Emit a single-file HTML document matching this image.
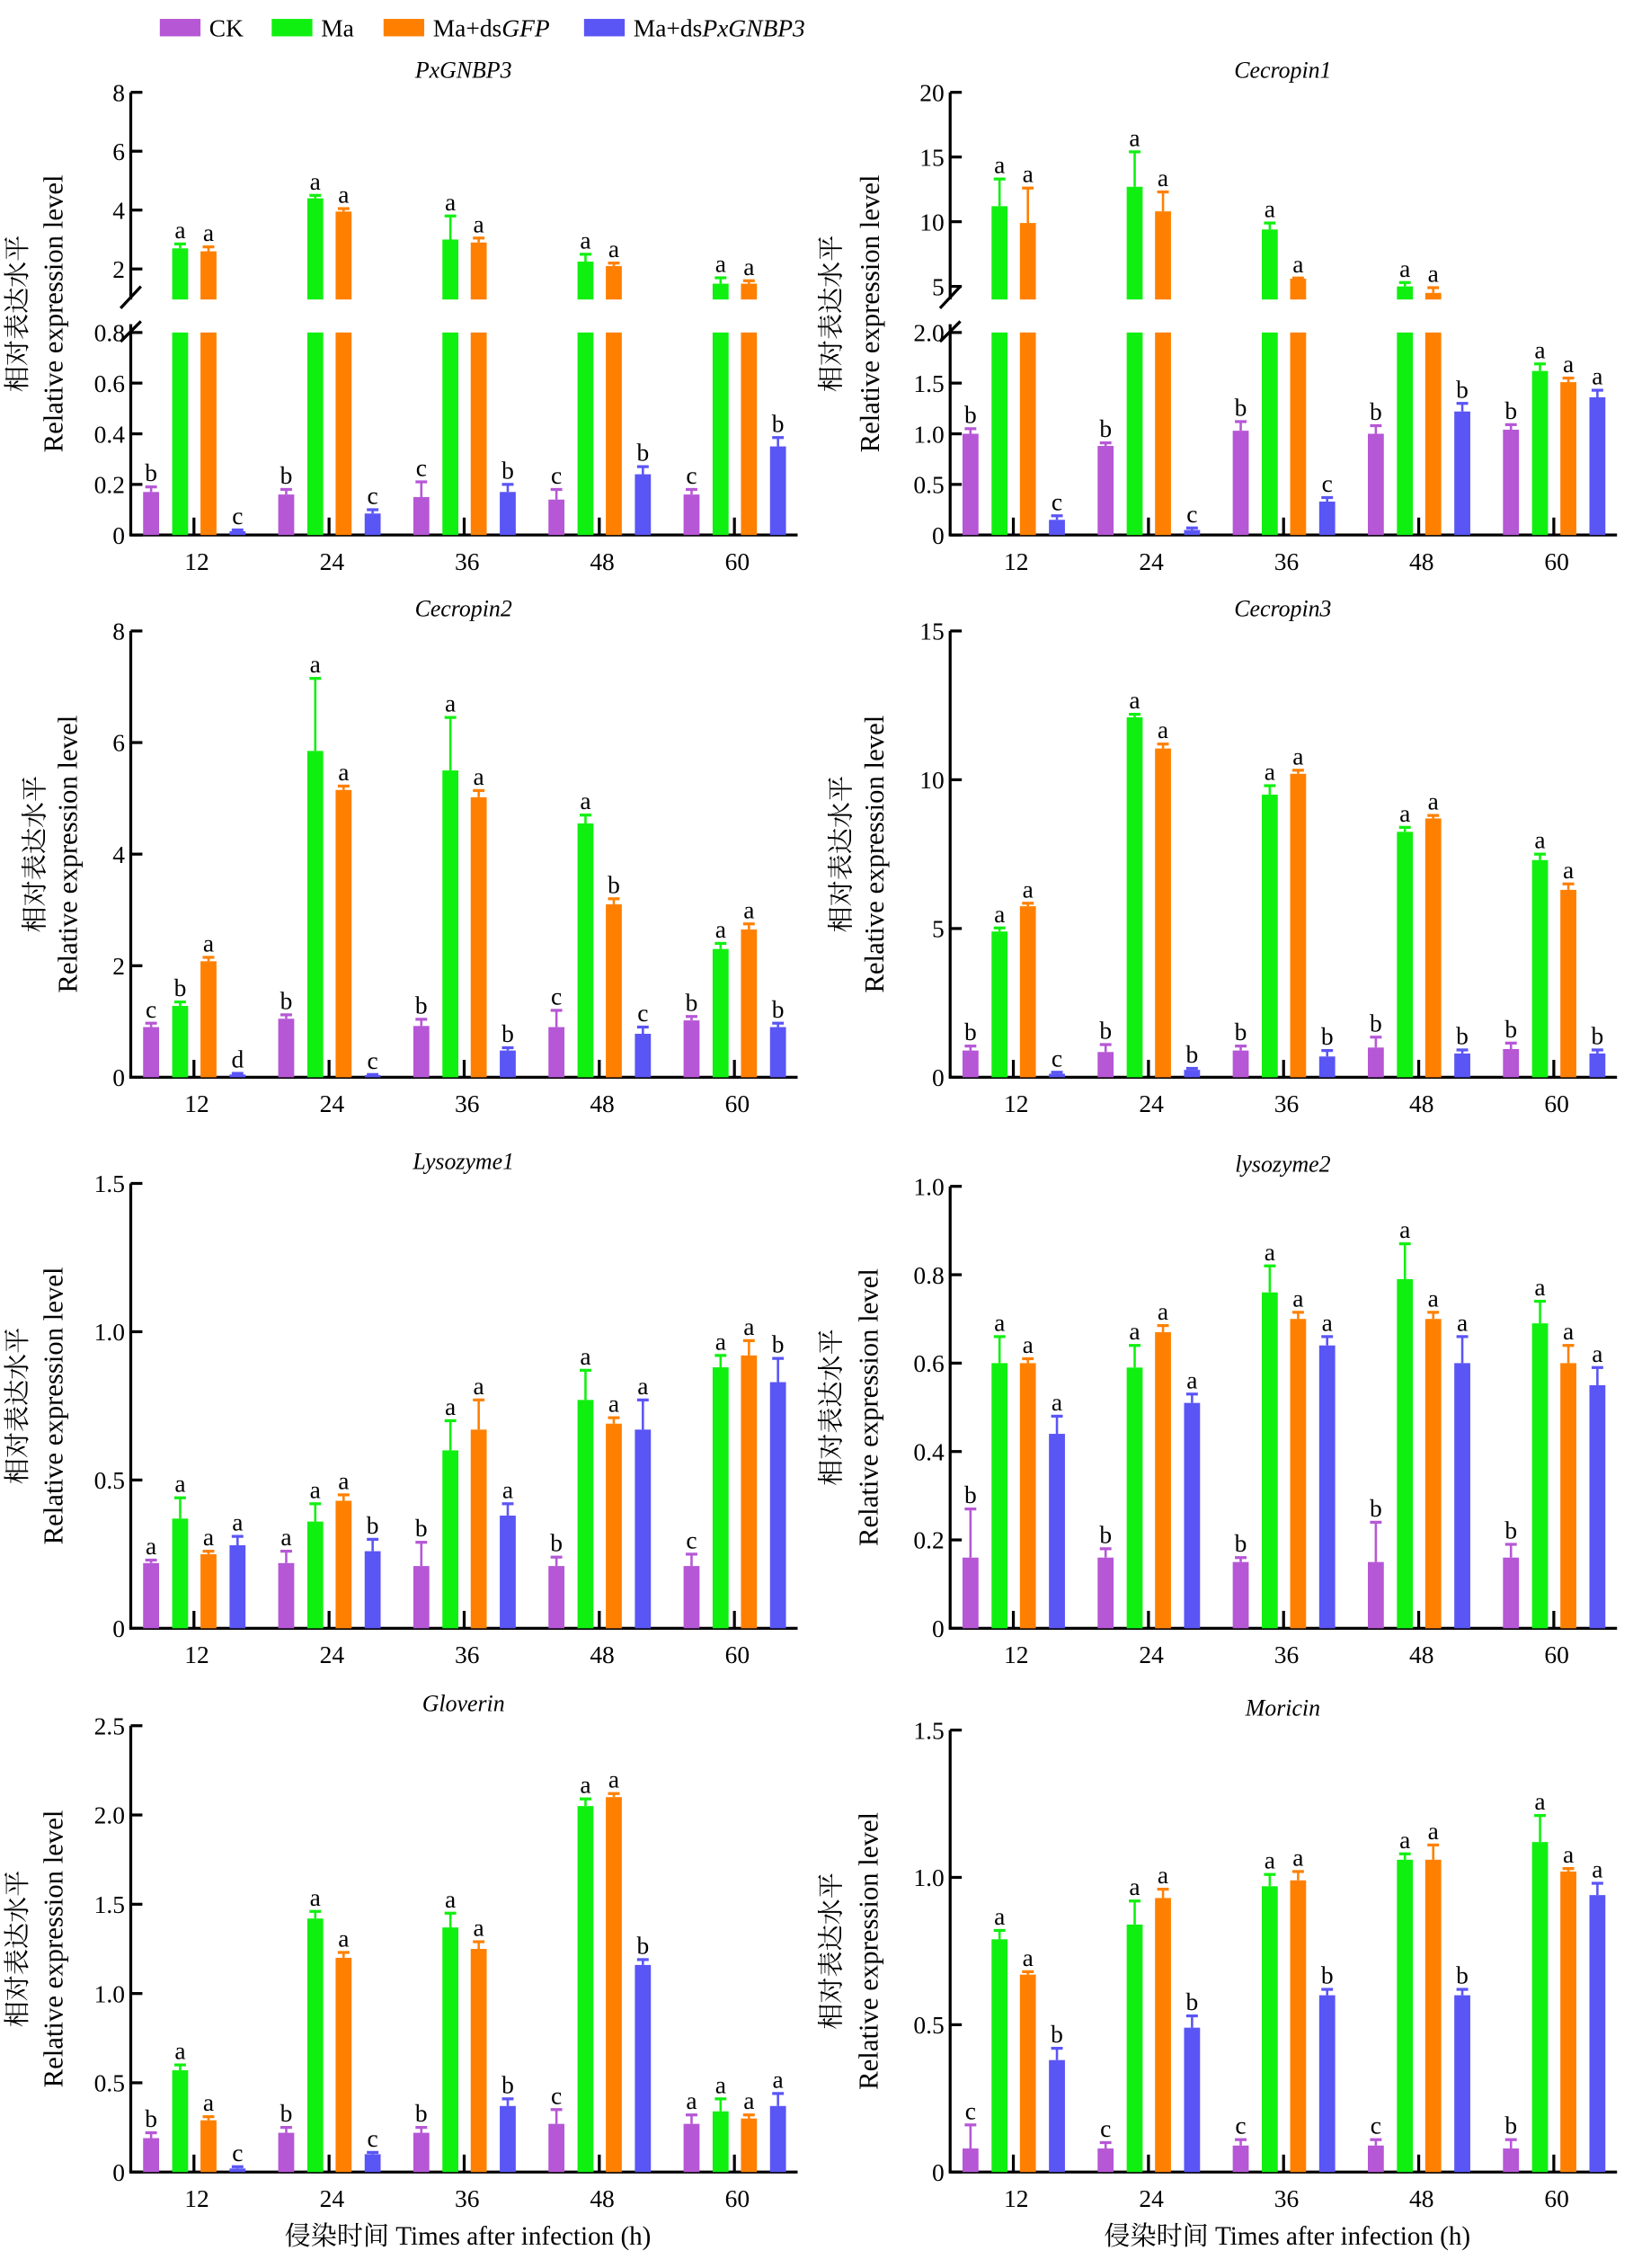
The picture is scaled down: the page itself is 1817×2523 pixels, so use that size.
<!DOCTYPE html>
<html><head><meta charset="utf-8">
<style>html,body{margin:0;padding:0;background:#fff}svg{display:block}</style>
</head><body>
<svg id="s" xmlns="http://www.w3.org/2000/svg" width="1817" height="2523" viewBox="0 0 1124 1560" preserveAspectRatio="none" font-family="'Liberation Serif','Noto Serif CJK SC',serif"></svg>
<script>
const C=['#b657d6','#10f010','#ff8000','#5a55f5'];
const s=document.getElementById('s');let h='';
const lg=[[110,'CK'],[187,'Ma'],[264,'Ma+ds<tspan font-style="italic">GFP</tspan>'],[402,'Ma+ds<tspan font-style="italic">PxGNBP3</tspan>']];
lg.forEach((l,i)=>{h+=`<rect x="${l[0]}" y="13" width="28" height="12" fill="${C[i]}"/><text x="${l[0]+34}" y="25" font-size="17">${l[1]}</text>`;});
function panel(p){
  const x0=p.x0,bot=p.bot,top=p.top;
  const Y=p.Y;
  h+=`<text x="${x0+229}" y="${top-10}" font-size="16" font-style="italic" text-anchor="middle">${p.title}</text>`;
  if(p.brk){
    h+=`<line x1="${x0}" y1="${top}" x2="${x0}" y2="206" stroke="#000" stroke-width="2"/>`;
    h+=`<line x1="${x0}" y1="223" x2="${x0}" y2="${bot}" stroke="#000" stroke-width="2"/>`;
    h+=`<line x1="${x0-7}" y1="212" x2="${x0+7}" y2="197" stroke="#000" stroke-width="2"/>`;
    h+=`<line x1="${x0-7}" y1="235" x2="${x0+7}" y2="221" stroke="#000" stroke-width="2"/>`;
  } else h+=`<line x1="${x0}" y1="${top}" x2="${x0}" y2="${bot}" stroke="#000" stroke-width="2"/>`;
  h+=`<line x1="${x0-1}" y1="${bot}" x2="${x0+459}" y2="${bot}" stroke="#000" stroke-width="2"/>`;
  p.ticks.forEach(t=>{const y=t[2];h+=`<line x1="${x0}" y1="${y}" x2="${x0+8}" y2="${y}" stroke="#000" stroke-width="2"/><text x="${x0-4}" y="${y+6}" font-size="17" text-anchor="end">${t[1]}</text>`;});
  const cy=(top+bot)/2+p.ly;
  h+=`<text transform="translate(${x0-p.cx},${cy}) rotate(-90)" font-size="18" text-anchor="middle" font-family="'Noto Serif CJK SC','Noto Sans CJK SC',serif">相对表达水平</text>`;
  h+=`<text transform="translate(${x0-p.ex},${cy}) rotate(-90)" font-size="19" text-anchor="middle">Relative expression level</text>`;
  const off=[-29.5,-9.5,10,30];
  p.d.forEach((g,i)=>{
    const t=x0+43.5+i*93;
    h+=`<line x1="${t}" y1="${bot-12}" x2="${t}" y2="${bot}" stroke="#000" stroke-width="2"/>`;
    h+=`<text x="${t+2}" y="${bot+24}" font-size="17" text-anchor="middle">${[12,24,36,48,60][i]}</text>`;
    g.forEach((b,j)=>{
      const cx=t+off[j],v=b[0],e=b[1];
      const yv=Y(v),ye=Y(v+e);
      if(p.brk&&v>p.lmax){
        h+=`<rect x="${cx-5.5}" y="228.7" width="11" height="${bot-228.7}" fill="${C[j]}"/>`;
        h+=`<rect x="${cx-5.5}" y="${yv}" width="11" height="${206-yv}" fill="${C[j]}"/>`;
      } else h+=`<rect x="${cx-5.5}" y="${yv}" width="11" height="${bot-yv}" fill="${C[j]}"/>`;
      h+=`<line x1="${cx}" y1="${yv}" x2="${cx}" y2="${ye}" stroke="${C[j]}" stroke-width="1.6"/><line x1="${cx-4}" y1="${ye}" x2="${cx+4}" y2="${ye}" stroke="${C[j]}" stroke-width="2"/>`;
      h+=`<text x="${cx}" y="${ye-4}" font-size="17" text-anchor="middle">${b[2]}</text>`;
    });
  });
}
function lin(bot,top,max){return v=>bot-v/max*(bot-top);}
function ticks(bot,top,max,step,dec){const a=[];for(let v=0;v<=max+1e-9;v+=step){a.push([v,v===0?'0':v.toFixed(dec),bot-v/max*(bot-top)]);}return a;}
function brkY(lmax,uA,uAy,uB,uBy){return v=>v<=lmax?368-v/lmax*(368-228.7):uAy+(v-uA)*(uBy-uAy)/(uB-uA);}
panel({title:'PxGNBP3',x0:90,top:63.5,bot:368,brk:1,lmax:0.8,Y:brkY(0.8,2,185,8,63.5),cx:72,ex:47,ly:0,
 ticks:[[0,'0',368],[.2,'0.2',333.2],[.4,'0.4',298.4],[.6,'0.6',263.5],[.8,'0.8',228.7],[2,'2',185],[4,'4',144.5],[6,'6',104],[8,'8',63.5]],
 d:[[[.17,.02,'b'],[2.7,.15,'a'],[2.6,.15,'a'],[.015,.005,'c']],
    [[.16,.02,'b'],[4.4,.1,'a'],[3.95,.1,'a'],[.085,.015,'c']],
    [[.15,.06,'c'],[3.0,.8,'a'],[2.9,.15,'a'],[.17,.03,'b']],
    [[.14,.04,'c'],[2.25,.25,'a'],[2.1,.1,'a'],[.24,.03,'b']],
    [[.16,.02,'c'],[1.5,.2,'a'],[1.5,.1,'a'],[.35,.035,'b']]]});
panel({title:'Cecropin1',x0:654,top:63.5,bot:368,brk:1,lmax:2,Y:brkY(2,5,197,20,63.5),cx:76,ex:49,ly:0,
 ticks:[[0,'0',368],[.5,'0.5',333.2],[1,'1.0',298.4],[1.5,'1.5',263.5],[2,'2.0',228.7],[5,'5',197],[10,'10',152.5],[15,'15',108],[20,'20',63.5]],
 d:[[[1.0,.05,'b'],[11.2,2.1,'a'],[9.9,2.7,'a'],[.15,.04,'c']],
    [[.88,.03,'b'],[12.7,2.7,'a'],[10.8,1.5,'a'],[.05,.02,'c']],
    [[1.03,.09,'b'],[9.4,.5,'a'],[5.6,.05,'a'],[.33,.04,'c']],
    [[1.0,.08,'b'],[5.0,.3,'a'],[4.5,.4,'a'],[1.22,.08,'b']],
    [[1.04,.05,'b'],[1.62,.07,'a'],[1.51,.04,'a'],[1.36,.07,'a']]]});
panel({title:'Cecropin2',x0:90,top:434,bot:741,Y:lin(741,434,8),cx:60,ex:37,ly:0,ticks:ticks(741,434,8,2,0),
 d:[[[.9,.07,'c'],[1.28,.07,'b'],[2.08,.07,'a'],[.05,.02,'d']],
    [[1.05,.07,'b'],[5.85,1.3,'a'],[5.15,.07,'a'],[.04,.01,'c']],
    [[.92,.12,'b'],[5.5,.95,'a'],[5.02,.12,'a'],[.48,.05,'b']],
    [[.9,.3,'c'],[4.55,.15,'a'],[3.1,.1,'b'],[.78,.12,'c']],
    [[1.02,.07,'b'],[2.3,.1,'a'],[2.65,.1,'a'],[.9,.07,'b']]]});
panel({title:'Cecropin3',x0:654,top:434,bot:741,Y:lin(741,434,15),cx:69,ex:46,ly:0,ticks:ticks(741,434,15,5,0),
 d:[[[.9,.15,'b'],[4.9,.12,'a'],[5.75,.1,'a'],[.12,.05,'c']],
    [[.85,.25,'b'],[12.1,.1,'a'],[11.05,.15,'a'],[.25,.05,'b']],
    [[.9,.15,'b'],[9.5,.3,'a'],[10.2,.12,'a'],[.7,.2,'b']],
    [[1.0,.35,'b'],[8.25,.15,'a'],[8.7,.1,'a'],[.8,.12,'b']],
    [[.95,.2,'b'],[7.3,.2,'a'],[6.3,.2,'a'],[.8,.12,'b']]]});
panel({title:'Lysozyme1',x0:90,top:814,bot:1120,Y:lin(1120,814,1.5),cx:72,ex:47,ly:0,ticks:ticks(1120,814,1.5,.5,1),
 d:[[[.22,.01,'a'],[.37,.07,'a'],[.25,.01,'a'],[.28,.03,'a']],
    [[.22,.04,'a'],[.36,.06,'a'],[.43,.02,'a'],[.26,.04,'b']],
    [[.21,.08,'b'],[.6,.1,'a'],[.67,.1,'a'],[.38,.04,'a']],
    [[.21,.03,'b'],[.77,.1,'a'],[.69,.02,'a'],[.67,.1,'a']],
    [[.21,.04,'c'],[.88,.04,'a'],[.92,.05,'a'],[.83,.08,'b']]]});
panel({title:'lysozyme2',x0:654,top:816,bot:1120,Y:lin(1120,816,1),cx:76,ex:50,ly:0,ticks:ticks(1120,816,1,.2,1),
 d:[[[.16,.11,'b'],[.6,.06,'a'],[.6,.01,'a'],[.44,.04,'a']],
    [[.16,.02,'b'],[.59,.05,'a'],[.67,.015,'a'],[.51,.02,'a']],
    [[.15,.01,'b'],[.76,.06,'a'],[.70,.015,'a'],[.64,.02,'a']],
    [[.15,.09,'b'],[.79,.08,'a'],[.70,.015,'a'],[.6,.06,'a']],
    [[.16,.03,'b'],[.69,.05,'a'],[.6,.04,'a'],[.55,.04,'a']]]});
panel({title:'Gloverin',x0:90,top:1187,bot:1494,Y:lin(1494,1187,2.5),cx:72,ex:47,ly:0,ticks:ticks(1494,1187,2.5,.5,1),
 d:[[[.19,.03,'b'],[.57,.03,'a'],[.29,.02,'a'],[.02,.01,'c']],
    [[.22,.03,'b'],[1.42,.04,'a'],[1.2,.03,'a'],[.1,.01,'c']],
    [[.22,.03,'b'],[1.37,.08,'a'],[1.25,.04,'a'],[.37,.04,'b']],
    [[.27,.08,'c'],[2.05,.04,'a'],[2.1,.02,'a'],[1.16,.03,'b']],
    [[.27,.05,'a'],[.34,.07,'a'],[.3,.02,'a'],[.37,.07,'a']]]});
panel({title:'Moricin',x0:654,top:1190,bot:1494,Y:lin(1494,1190,1.5),cx:76,ex:50,ly:0,ticks:ticks(1494,1190,1.5,.5,1),
 d:[[[.08,.08,'c'],[.79,.03,'a'],[.67,.01,'a'],[.38,.04,'b']],
    [[.08,.02,'c'],[.84,.08,'a'],[.93,.03,'a'],[.49,.04,'b']],
    [[.09,.02,'c'],[.97,.04,'a'],[.99,.03,'a'],[.6,.02,'b']],
    [[.09,.02,'c'],[1.06,.02,'a'],[1.06,.05,'a'],[.6,.02,'b']],
    [[.08,.03,'b'],[1.12,.09,'a'],[1.02,.01,'a'],[.94,.04,'a']]]});
h+=`<text x="322" y="1544" font-size="18" text-anchor="middle"><tspan font-family="'Noto Serif CJK SC','Noto Sans CJK SC',serif">侵染时间</tspan> Times after infection (h)</text>`;
h+=`<text x="886" y="1544" font-size="18" text-anchor="middle"><tspan font-family="'Noto Serif CJK SC','Noto Sans CJK SC',serif">侵染时间</tspan> Times after infection (h)</text>`;
s.innerHTML=h;
</script>
</body></html>
